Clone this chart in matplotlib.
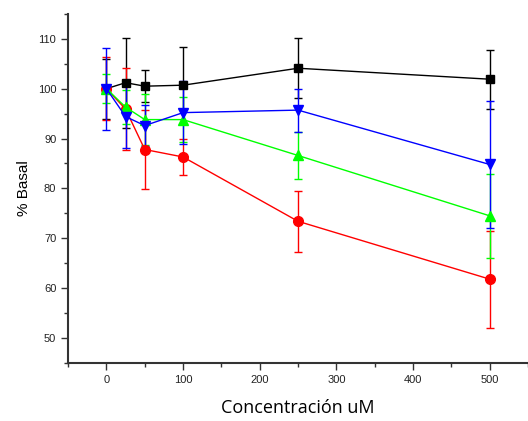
import numpy as np
import matplotlib
matplotlib.use("Agg")
import matplotlib.pyplot as plt
from matplotlib.ticker import MultipleLocator

conc = [0, 25, 50, 100, 250, 500]

black = [100.0, 101.2, 100.5, 100.7, 104.1, 101.9]
black_err = [6.0, 9.0, 3.2, 7.7, 6.0, 5.9]

red = [100.0, 95.9, 87.8, 86.3, 73.4, 61.8]
red_err = [6.3, 8.2, 8.0, 3.6, 6.1, 9.7]

green = [100.0, 96.3, 93.8, 93.8, 86.6, 74.5]
green_err = [2.9, 3.4, 5.1, 4.5, 4.7, 8.4]

blue = [100.0, 94.4, 92.6, 95.2, 95.7, 84.8]
blue_err = [8.2, 6.2, 4.1, 6.3, 4.3, 12.8]

fig = plt.figure(figsize=(5.28, 4.21), dpi=100)
ax = fig.add_axes([0.129, 0.138, 0.871, 0.829])

series = [
    (black, black_err, "black", "s", 6),
    (red, red_err, "red", "o", 7),
    (green, green_err, "#00ff00", "^", 7),
    (blue, blue_err, "blue", "v", 7),
]
for vals, err, col, mk, ms in series:
    ax.errorbar(conc, vals, yerr=err, color=col, marker=mk, markersize=ms,
                lw=1, elinewidth=1, capsize=3, capthick=1)

ax.set_xlim(-50, 550)
ax.set_ylim(45, 115)
ax.xaxis.set_major_locator(MultipleLocator(100))
ax.xaxis.set_minor_locator(MultipleLocator(50))
ax.yaxis.set_major_locator(MultipleLocator(10))
ax.yaxis.set_minor_locator(MultipleLocator(5))
ax.set_yticks([50, 60, 70, 80, 90, 100, 110])

for s in ["top", "right"]:
    ax.spines[s].set_visible(False)
for s in ["left", "bottom"]:
    ax.spines[s].set_linewidth(1.5)
    ax.spines[s].set_color("#333333")

ax.tick_params(which="major", direction="out", length=5, width=1,
               labelsize=8, colors="#333333")
ax.tick_params(which="minor", direction="out", length=3, width=1, colors="#333333")
for lab in ax.get_xticklabels() + ax.get_yticklabels():
    lab.set_family("Liberation Sans")
    lab.set_color("#222222")

ax.set_ylabel("% Basal", fontsize=11, family="Liberation Sans", labelpad=5)
ax.set_xlabel("Concentración uM", fontsize=13, family="Open Sans", labelpad=10)

fig.savefig("out.png", dpi=100)
